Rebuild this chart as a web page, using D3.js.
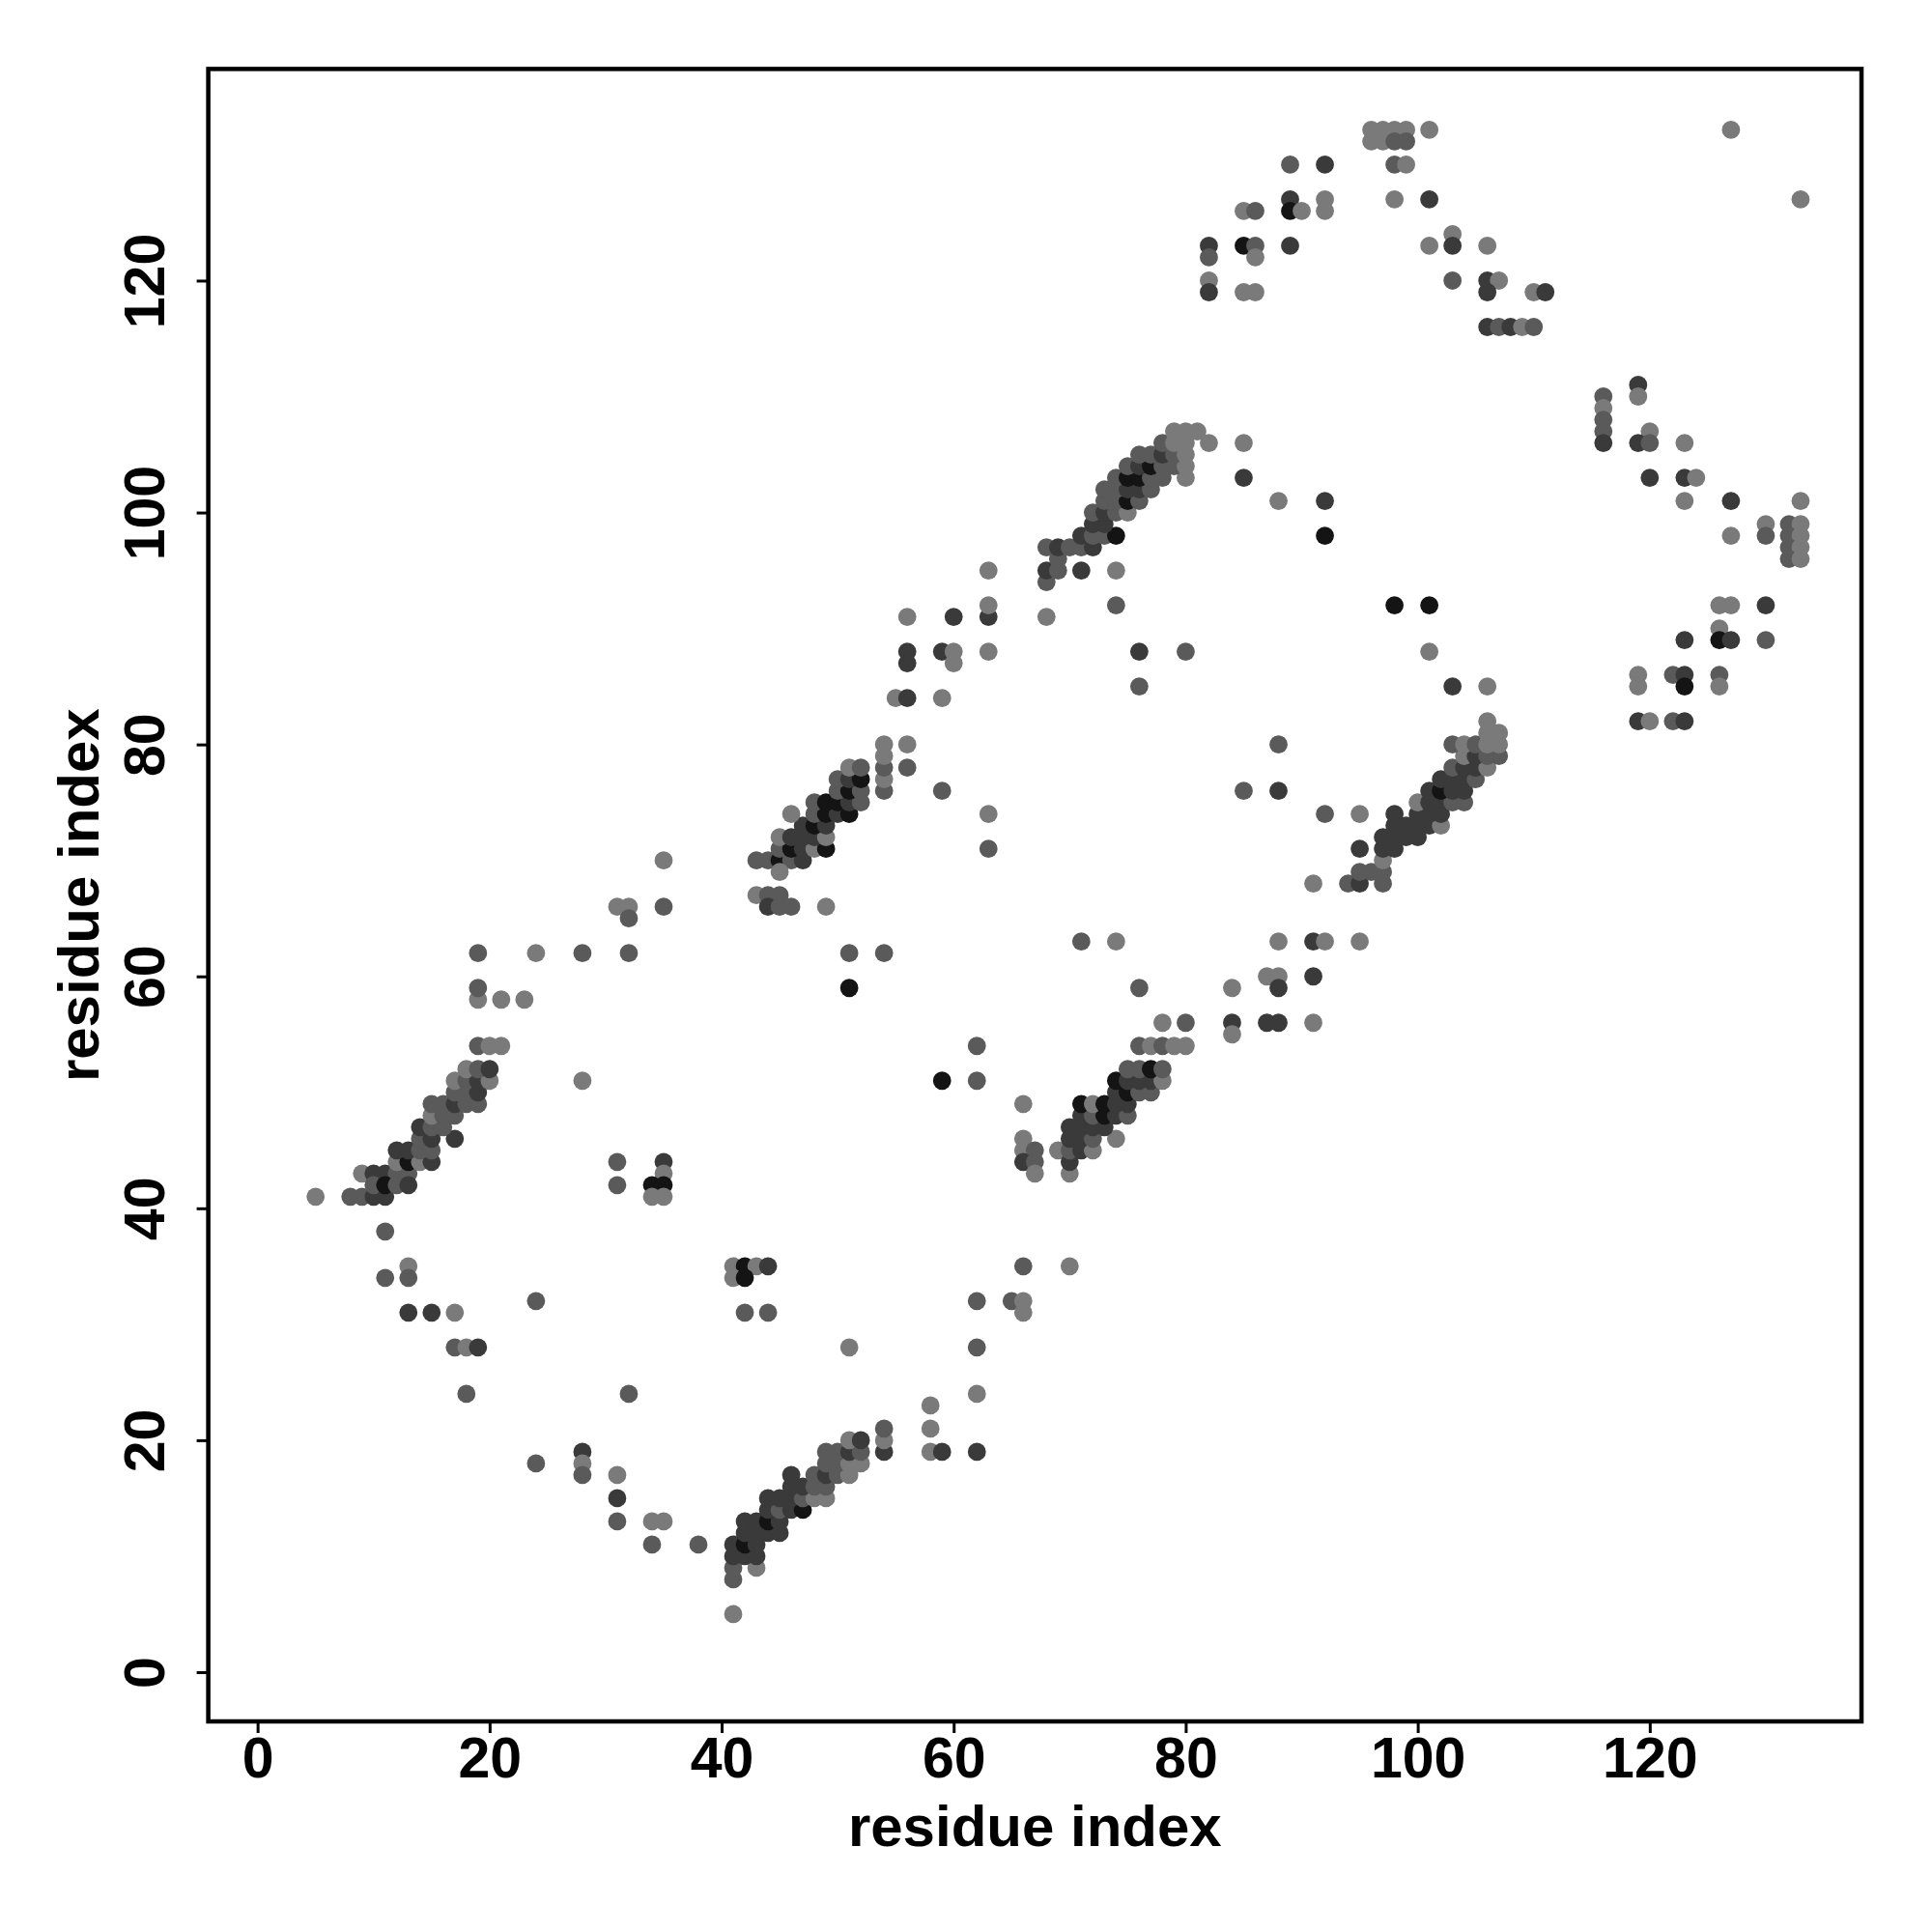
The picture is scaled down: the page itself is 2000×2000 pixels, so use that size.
<!DOCTYPE html>
<html>
<head>
<meta charset="utf-8">
<script src="https://cdn.jsdelivr.net/npm/d3@7"></script>
<style>
  html, body { margin: 0; padding: 0; background: #fff; }
  svg text { font-family: "Liberation Sans", Arial, Helvetica, sans-serif; font-weight: bold; }
</style>
</head>
<body>
<svg id="chart" width="2000" height="2000"></svg>
<script>
// residue pairs (x residue, y residue) and shade level (1 light grey .. 4 near black)
const resX = [
  5,8,9,10,11, 9,10,11,12,13, 10,11,12,13, 12,13,14,15, 12,13,14,15, 14,15,17, 14,15,16, 15,16,17, 15,16,17,18,19, 17,18,19, 17,18,19,20, 18,19,20,
  19,20,21,19,21,23,19,19,24,28,32,31,32,32,35,28,35,
  31,35,35,31,34,35,34,35,
  11,13,11,13,13,15,17,24,17,18,19,18,32,28,28,28,24,31,31,31,34,35,34,38,
  41,41,41,43,41,42,43,41,42,43,42,43,44,45,42,43,44,45,44,45,46,47,44,45,46,47,48,49,46,47,48,49,46,48,49,50,51,49,50,51,52,49,50,51,52,51,52,
  54,54,54,58,59,62,58,58,62,51,62,62,65,66,66,42,44,41,42,43,44,41,42,66,70,
  51,54,51,62,59,62,66,66,66,67,66,67,67,69,
  70,70,70,71,72,70,71,72,74,70,71,72,73,71,72,73,74,75,71,72,73,74,75,74,75,76,77,74,75,76,77,78,75,76,77,78,76,77,78,79,80,78,80,76,71,74,
  84,84,84,87,88,91,87,88,88,91,88,91,92,95,91,94,95,97,95,96,97,
  97,95,97,98,97,98,99,100,98,99,100,101,102,98,100,101,102,100,101,102,103,104,101,102,103,104,102,103,104,105,103,104,105,106,104,105,106,107,103,104,105,106,107,106,107,106,
  92,95,85,88,88,103,106,101,98,101,76,80,76,74,71,74,88,92,92,
  43,44,45,46,47,45,45,46,47,48,49,45,46,47,48,49,47,48,49,46,48,49,50,51,48,49,50,51,52,50,51,52,50,51,52,51,52,
  43,44,45,44,45,46,49,54,54,54,54,54,56,56,59,63,63,55,56,59,56,56,59,60,60,63,56,60,63,63,63,68,68,68,69,69,68,69,70,
  71,72,71,72,73,74,72,73,72,73,74,75,73,74,75,76,73,74,75,76,77,74,75,76,77,78,80,75,76,77,78,79,80,76,77,78,79,80,78,79,80,82,79,80,81,85,85,
  96,97,98,99,101,96,97,98,99,89,92,98,99,89,92,98,101,85,86,89,90,92,82,85,86,89,101,103,103,106,82,86,82,82,85,86,103,106,107,106,110,111,106,107,108,109,110,127,133,
  119,119,116,116,116,116,116,120,119,120,123,120,123,124,123,127,133,
  130,132,133,127,130,132,133,132,133,132,133,126,127,130,126,123,126,127,130,119,122,123,126,119,123,126,119,120,122,123
];
const resY = [
  41,41,41,41,41, 43,43,43,43,43, 42,42,42,42, 44,44,44,44, 45,45,45,45, 46,46,46, 47,47,47, 48,48,48, 49,49,49,49,49, 50,50,50, 51,51,51,51, 52,52,52,
  54,54,54,58,58,58,59,62,62,62,62,66,66,65,66,51,70,
  44,44,43,42,42,42,41,41,
  38,35,34,34,31,31,31,32,28,28,28,24,24,19,18,17,18,17,15,13,13,13,11,11,
  5,8,9,9,10,10,10,11,11,11,12,12,12,12,13,13,13,13,14,14,14,14,15,15,15,15,15,15,16,16,16,16,17,17,17,17,17,18,18,18,18,19,19,19,19,20,20,
  19,20,21,19,19,19,21,23,24,28,28,32,32,32,31,31,31,35,35,35,35,34,34,35,35,
  62,62,59,54,51,51,49,46,45,45,44,44,43,45,
  43,44,45,45,45,46,46,46,46,47,47,47,47,48,48,48,48,48,49,49,49,49,49,50,50,50,50,51,51,51,51,51,52,52,52,52,54,54,54,54,54,56,56,59,63,63,
  59,56,55,56,56,56,60,60,59,60,63,63,63,63,68,68,68,68,69,69,69,
  70,71,71,71,72,72,72,72,73,73,73,73,73,74,74,74,74,75,75,75,75,75,76,76,76,76,77,77,77,77,78,78,78,78,79,79,79,79,80,80,80,80,80,81,81,82,
  74,74,76,76,80,85,85,88,92,92,88,88,85,92,95,95,101,101,98,
  70,70,70,70,70,69,71,71,71,71,71,72,72,72,72,72,73,73,73,74,74,74,74,74,75,75,75,75,75,76,76,76,77,77,77,78,78,
  67,67,67,66,66,66,66,76,77,78,79,80,78,80,76,74,71,84,84,84,87,88,88,88,87,88,91,91,91,92,95,91,94,95,95,96,97,97,97,
  97,97,98,98,98,98,99,99,100,100,100,100,101,101,101,101,102,102,102,102,102,103,103,103,103,103,103,104,104,104,104,104,104,105,105,105,105,105,106,106,106,106,107,107,107,106,103,
  133,133,133,133,133,132,132,132,132,130,130,130,130,127,127,127,127,126,126,126,126,126,123,123,123,123,123,124,123,123,122,122,120,119,119,119,120,120,120,119,119,119,116,116,116,116,116,133,127,
  111,110,110,109,108,107,106,107,106,106,106,103,103,103,101,101,101,
  99,99,99,98,98,98,98,97,97,96,96,92,92,92,90,89,89,89,89,86,86,86,86,85,85,85,82,82,82,82
];
const shade = [
  1,2,2,3,3, 1,3,3,2,2, 2,4,2,3, 1,4,1,3, 3,3,2,2, 2,3,3, 3,2,2, 1,2,2, 2,2,3,2,2, 2,2,3, 1,2,3,1, 1,2,3,
  2,1,1,1,1,1,2,2,1,2,2,1,1,2,2,1,1,
  2,3,1,2,4,4,1,1,
  2,1,2,2,3,3,1,2,2,1,3,2,2,3,1,2,2,1,3,2,1,1,2,2,
  1,2,2,1,3,3,3,3,4,3,3,3,3,3,3,3,4,3,3,2,3,4,3,3,3,2,1,1,3,3,2,2,3,2,3,2,1,2,2,1,1,2,2,3,2,1,3,
  3,1,2,1,3,3,1,1,1,1,2,2,2,1,1,2,2,1,4,1,3,1,4,2,1,
  2,2,4,2,4,2,1,1,1,2,3,2,1,1,
  1,3,2,3,1,3,3,2,1,3,3,3,3,3,2,4,3,2,4,1,4,3,3,3,4,2,2,4,3,3,3,1,2,2,4,2,2,1,2,1,1,1,2,2,2,1,
  1,3,1,3,3,1,1,1,3,3,1,3,1,1,1,2,3,2,2,2,2,
  1, 3,3,3, 3,3,3,3, 3,3,3,3,1, 3,3,3,3, 1,3,3,2,2, 3,4,3,3, 3,3,3,2, 2,3,3,1, 1,3,2,2, 2,1,2,1,1, 1,1, 1,
  2,1,2,3,2,3,1,1,4,4,3,2,2,2,3,1,1,3,4,
  2,2,4,2,3,1,2,4,3,1,4,1,3,3,3,1,3,4,3,1,2,4,3,4,2,4,4,3,2,2,4,2,2,3,4,1,2,
  1,2,2,3,2,2,1,2,1,2,1,1,2,1,2,1,2,1,3,1,3,3,3,1,1,1,1,3,3,1,1,1,2,3,2,2,2,3,2,
  2,3,3,2,2,4,3,3,2,3,2,1,2,2,4,2,2,2,3,3,2,2,4,4,2,2,1,2,3,4,2,2,1,2,2,3,2,1,2,1,1,1,1,1,1,1,3,
  1,1,1,1,1,1,1,2,2,2,3,2,1,3,1,1,3,1,2,4,1,1,3,4,2,3,1,1,3,1,2,1,1,3,1,1,2,3,1,3,1,3,3,2,3,1,2,1,1,
  3,1,2,1,2,2,3,1,3,2,1,3,3,1,1,3,1,
  1,2,1,1,2,2,1,2,1,2,1,1,1,3,1,3,4,3,2,1,2,3,2,1,4,1,3,1,2,3
];
const xTicks = [0, 20, 40, 60, 80, 100, 120];
const yTicks = [0, 20, 40, 60, 80, 100, 120];
const axisTitleX = "residue index";
const axisTitleY = "residue index";

(function () {
  const shadeColor = d3.scaleOrdinal().domain([1, 2, 3, 4]).range(["#7a7a7a", "#5a5a5a", "#3a3a3a", "#141414"]);
  const points = resX.map((x, i) => ({ x: x, y: resY[i], s: shade[i] }));

  const svg = d3.select("#chart");
  const pL = 215.6, pR = 1927, pT = 71.4, pB = 1782;
  const xScale = d3.scaleLinear().domain([-4.25, 138.25]).range([pL, pR]);
  const yScale = d3.scaleLinear().domain([-4.25, 138.25]).range([pB, pT]);

  svg.append("rect").attr("width", 2000).attr("height", 2000).attr("fill", "#fff");

  svg.append("g").selectAll("circle").data(points).join("circle")
    .attr("cx", d => xScale(d.x))
    .attr("cy", d => yScale(d.y))
    .attr("r", 9.4)
    .attr("fill", d => shadeColor(d.s));

  svg.append("rect")
    .attr("x", pL).attr("y", pT)
    .attr("width", pR - pL).attr("height", pB - pT)
    .attr("fill", "none").attr("stroke", "#000").attr("stroke-width", 4.5);

  const gx = svg.append("g").attr("transform", `translate(0,${pB})`)
    .call(d3.axisBottom(xScale).tickValues(xTicks).tickSize(12).tickFormat(d3.format("d")));
  gx.select(".domain").remove();
  gx.selectAll(".tick line").attr("stroke", "#000").attr("stroke-width", 3);
  gx.selectAll(".tick text").attr("y", 58).attr("dy", 0)
    .attr("font-size", 59).attr("fill", "#000")
    .style("font-family", "'Liberation Sans', Arial, sans-serif").style("font-weight", "bold");

  const gy = svg.append("g").attr("transform", `translate(${pL},0)`)
    .call(d3.axisLeft(yScale).tickValues(yTicks).tickSize(12).tickFormat(d3.format("d")));
  gy.select(".domain").remove();
  gy.selectAll(".tick line").attr("stroke", "#000").attr("stroke-width", 3);
  gy.selectAll(".tick text")
    .attr("x", 0).attr("dy", 0).attr("y", 0)
    .attr("text-anchor", "middle")
    .attr("transform", "translate(-46,0) rotate(-90)")
    .attr("font-size", 59).attr("fill", "#000")
    .style("font-family", "'Liberation Sans', Arial, sans-serif").style("font-weight", "bold");

  svg.append("text")
    .attr("x", (pL + pR) / 2).attr("y", 1911)
    .attr("text-anchor", "middle").attr("font-size", 60).attr("fill", "#000")
    .text(axisTitleX);
  svg.append("text")
    .attr("transform", `translate(102,${(pT + pB) / 2}) rotate(-90)`)
    .attr("text-anchor", "middle").attr("font-size", 60).attr("fill", "#000")
    .text(axisTitleY);
})();
</script>
</body>
</html>
